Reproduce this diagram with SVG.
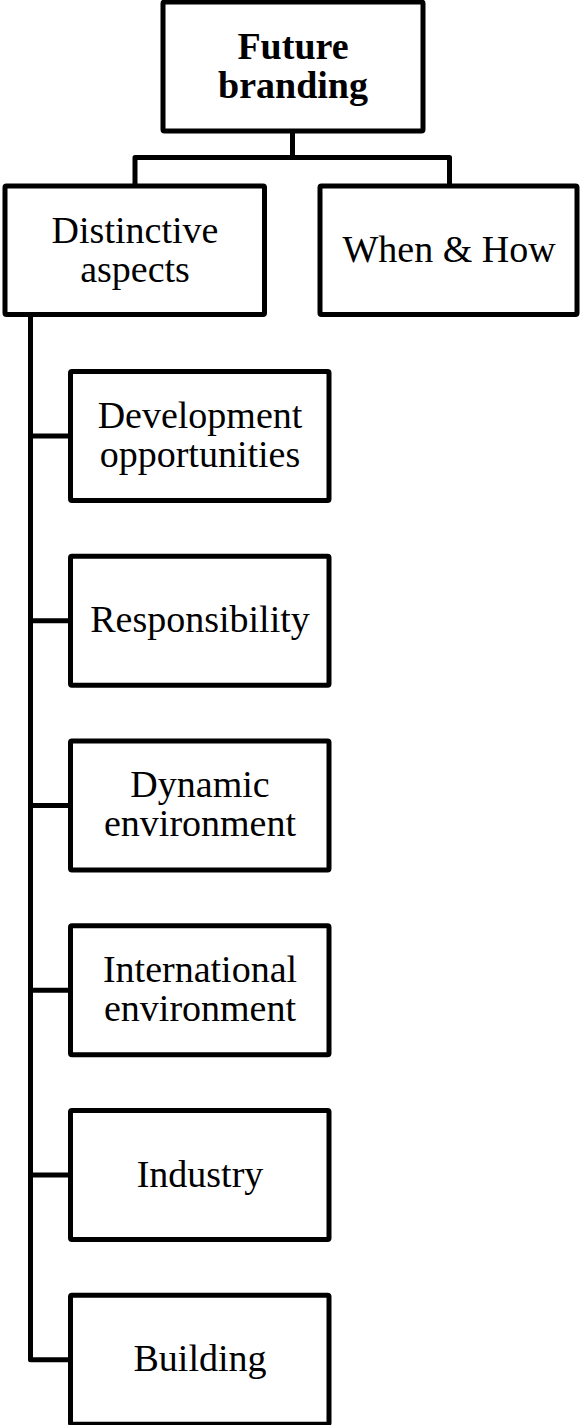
<svg xmlns="http://www.w3.org/2000/svg" width="580" height="1425" viewBox="0 0 580 1425">
<style>
.box{fill:#fff;stroke:#000;stroke-width:5;stroke-linejoin:round}
.conn{fill:none;stroke:#000;stroke-width:5;stroke-linejoin:round}
text{font-family:"Liberation Serif","Times New Roman",serif;font-size:38px;fill:#000;text-anchor:middle}
.b{font-weight:bold}
</style>
<rect width="580" height="1425" fill="#fff"/>
<g id="connectors">
<path class="conn" d="M292.5,131 V157.5 M135,186 V157.5 H449.5 V186"/>
<path class="conn" d="M30.5,314.5 V1359.75 H70.5 M30.5,436 H70.5 M30.5,620.75 H70.5 M30.5,805.5 H70.5 M30.5,990.25 H70.5 M30.5,1175 H70.5"/>
</g>
<g id="future-branding">
<rect class="box" x="163" y="2" width="260" height="129" rx="1.5"/>
<text class="b" x="293" y="59">Future</text>
<text class="b" x="293" y="98">branding</text>
</g>
<g id="distinctive-aspects">
<rect class="box" x="5" y="186" width="259.5" height="128.5" rx="1.5"/>
<text x="135" y="243">Distinctive</text>
<text x="135" y="282">aspects</text>
</g>
<g id="when-how">
<rect class="box" x="320" y="186" width="257" height="128.5" rx="1.5"/>
<text x="449" y="262">When &amp; How</text>
</g>
<g id="development-opportunities">
<rect class="box" x="70.5" y="371.5" width="258.5" height="129" rx="1.5"/>
<text x="200" y="427.5">Development</text>
<text x="200" y="466.5">opportunities</text>
</g>
<g id="responsibility">
<rect class="box" x="70.5" y="556.25" width="258.5" height="129" rx="1.5"/>
<text x="200" y="632">Responsibility</text>
</g>
<g id="dynamic-environment">
<rect class="box" x="70.5" y="741" width="258.5" height="129" rx="1.5"/>
<text x="200" y="797">Dynamic</text>
<text x="200" y="836">environment</text>
</g>
<g id="international-environment">
<rect class="box" x="70.5" y="925.75" width="258.5" height="129" rx="1.5"/>
<text x="200" y="982">International</text>
<text x="200" y="1021">environment</text>
</g>
<g id="industry">
<rect class="box" x="70.5" y="1110.5" width="258.5" height="129" rx="1.5"/>
<text x="200" y="1186.5">Industry</text>
</g>
<g id="building">
<rect class="box" x="70.5" y="1295.25" width="258.5" height="129" rx="1.5"/>
<text x="200" y="1371">Building</text>
</g>
</svg>
